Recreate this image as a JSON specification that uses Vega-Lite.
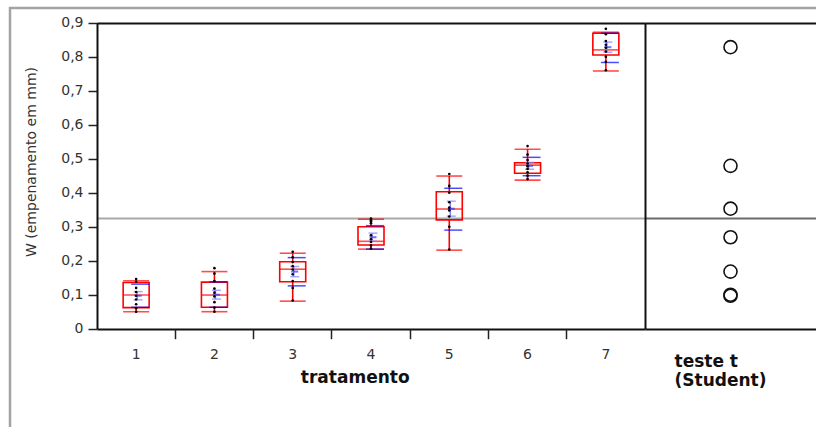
{
  "$schema": "https://vega.github.io/schema/vega-lite/v6.json",
  "width": 810,
  "height": 423,
  "autosize": {"type": "none"},
  "padding": {"left": 10, "top": 8, "right": -4, "bottom": -4},
  "background": "white",
  "config": {
    "view": {"stroke": "#a3a3a3", "strokeWidth": 2.5},
    "font": "DejaVu Sans",
    "axis": {"labelFont": "DejaVu Sans", "titleFont": "DejaVu Sans"}
  },
  "datasets": {
    "grupos": [
      {"tratamento": "1", "min": 0.05, "q1": 0.062, "mediana": 0.099, "q3": 0.136, "max": 0.141, "media": 0.097, "dp_inf": 0.063, "dp_sup": 0.131, "ep_inf": 0.085, "ep_sup": 0.109},
      {"tratamento": "2", "min": 0.05, "q1": 0.063, "mediana": 0.099, "q3": 0.137, "max": 0.168, "media": 0.100, "dp_inf": 0.063, "dp_sup": 0.138, "ep_inf": 0.087, "ep_sup": 0.113},
      {"tratamento": "3", "min": 0.081, "q1": 0.138, "mediana": 0.175, "q3": 0.197, "max": 0.222, "media": 0.168, "dp_inf": 0.126, "dp_sup": 0.209, "ep_inf": 0.153, "ep_sup": 0.183},
      {"tratamento": "4", "min": 0.234, "q1": 0.246, "mediana": 0.257, "q3": 0.300, "max": 0.322, "media": 0.269, "dp_inf": 0.234, "dp_sup": 0.303, "ep_inf": 0.257, "ep_sup": 0.281},
      {"tratamento": "5", "min": 0.231, "q1": 0.320, "mediana": 0.352, "q3": 0.403, "max": 0.449, "media": 0.353, "dp_inf": 0.290, "dp_sup": 0.413, "ep_inf": 0.331, "ep_sup": 0.375},
      {"tratamento": "6", "min": 0.437, "q1": 0.457, "mediana": 0.481, "q3": 0.488, "max": 0.528, "media": 0.479, "dp_inf": 0.450, "dp_sup": 0.504, "ep_inf": 0.469, "ep_sup": 0.489},
      {"tratamento": "7", "min": 0.758, "q1": 0.805, "mediana": 0.820, "q3": 0.869, "max": 0.872, "media": 0.828, "dp_inf": 0.783, "dp_sup": 0.869, "ep_inf": 0.813, "ep_sup": 0.843}
    ],
    "pontos": [
      {"tratamento": "1", "w": 0.146}, {"tratamento": "1", "w": 0.138}, {"tratamento": "1", "w": 0.12}, {"tratamento": "1", "w": 0.108}, {"tratamento": "1", "w": 0.097}, {"tratamento": "1", "w": 0.086}, {"tratamento": "1", "w": 0.072}, {"tratamento": "1", "w": 0.06}, {"tratamento": "1", "w": 0.05},
      {"tratamento": "2", "w": 0.178}, {"tratamento": "2", "w": 0.162}, {"tratamento": "2", "w": 0.14}, {"tratamento": "2", "w": 0.118}, {"tratamento": "2", "w": 0.106}, {"tratamento": "2", "w": 0.095}, {"tratamento": "2", "w": 0.078}, {"tratamento": "2", "w": 0.062}, {"tratamento": "2", "w": 0.05},
      {"tratamento": "3", "w": 0.226}, {"tratamento": "3", "w": 0.21}, {"tratamento": "3", "w": 0.196}, {"tratamento": "3", "w": 0.184}, {"tratamento": "3", "w": 0.174}, {"tratamento": "3", "w": 0.16}, {"tratamento": "3", "w": 0.14}, {"tratamento": "3", "w": 0.12}, {"tratamento": "3", "w": 0.083},
      {"tratamento": "4", "w": 0.324}, {"tratamento": "4", "w": 0.319}, {"tratamento": "4", "w": 0.315}, {"tratamento": "4", "w": 0.31}, {"tratamento": "4", "w": 0.275}, {"tratamento": "4", "w": 0.263}, {"tratamento": "4", "w": 0.255}, {"tratamento": "4", "w": 0.245}, {"tratamento": "4", "w": 0.236},
      {"tratamento": "5", "w": 0.455}, {"tratamento": "5", "w": 0.42}, {"tratamento": "5", "w": 0.40}, {"tratamento": "5", "w": 0.372}, {"tratamento": "5", "w": 0.356}, {"tratamento": "5", "w": 0.348}, {"tratamento": "5", "w": 0.33}, {"tratamento": "5", "w": 0.30}, {"tratamento": "5", "w": 0.233},
      {"tratamento": "6", "w": 0.537}, {"tratamento": "6", "w": 0.512}, {"tratamento": "6", "w": 0.496}, {"tratamento": "6", "w": 0.486}, {"tratamento": "6", "w": 0.478}, {"tratamento": "6", "w": 0.47}, {"tratamento": "6", "w": 0.46}, {"tratamento": "6", "w": 0.45}, {"tratamento": "6", "w": 0.44},
      {"tratamento": "7", "w": 0.882}, {"tratamento": "7", "w": 0.866}, {"tratamento": "7", "w": 0.846}, {"tratamento": "7", "w": 0.835}, {"tratamento": "7", "w": 0.826}, {"tratamento": "7", "w": 0.815}, {"tratamento": "7", "w": 0.80}, {"tratamento": "7", "w": 0.785}, {"tratamento": "7", "w": 0.76}
    ]
  },
  "layer": [
    {
      "data": {"name": "grupos"},
      "mark": {"type": "bar", "width": 26, "fill": "transparent", "stroke": "#ff0000", "strokeWidth": 1.6},
      "encoding": {
        "x": {"field": "tratamento", "type": "nominal",
          "scale": {"type": "band", "domain": ["1","2","3","4","5","6","7"], "range": [87, 635], "paddingInner": 0, "paddingOuter": 0},
          "axis": {"orient": "bottom", "offset": -102.3, "domain": false, "ticks": false, "labelAngle": 0, "labelFont": "DejaVu Sans", "labelFontSize": 14, "labelColor": "#333333", "labelPadding": 19, "labelDx": -4,
            "title": "tratamento", "titleFont": "DejaVu Sans", "titleFontSize": 17, "titleFontWeight": "bold", "titleColor": "#111111", "titleX": 344.7, "titleY": 54, "titleBaseline": "alphabetic", "titleAlign": "center"}},
        "y": {"field": "q1", "type": "quantitative",
          "scale": {"domain": [0, 0.9], "range": [320.7, 14.7], "nice": false, "zero": false},
          "axis": {"orient": "left", "offset": -87, "values": [0, 0.1, 0.2, 0.3, 0.4, 0.5, 0.6, 0.7, 0.8, 0.9],
            "labelExpr": "datum.value == 0 ? '0' : replace(format(datum.value, '.1f'), '.', ',')",
            "labelFont": "DejaVu Sans", "labelFontSize": 14, "labelColor": "#333333", "labelPadding": 5,
            "tickSize": 9, "tickColor": "#222222", "tickWidth": 1.5, "domainColor": "#111111", "domainWidth": 2, "grid": false,
            "title": "W (empenamento em mm)", "titleFont": "DejaVu Sans", "titleFontSize": 14, "titleFontWeight": "normal", "titleColor": "#333333",
            "titleX": -66, "titleY": 153.5, "titleAngle": 270, "titleAlign": "center", "titleBaseline": "middle"}},
        "y2": {"field": "q3"}
      }
    },
    {
      "data": {"name": "grupos"},
      "mark": {"type": "tick", "orient": "horizontal", "size": 26, "thickness": 1.6, "color": "#ff0000"},
      "encoding": {
        "x": {"field": "tratamento", "type": "nominal",
          "scale": {"type": "band", "domain": ["1","2","3","4","5","6","7"], "range": [87, 635], "paddingInner": 0, "paddingOuter": 0},
          "axis": {"orient": "bottom", "offset": -102.3, "values": ["2","3","4","5","6","7"], "bandPosition": 0, "domain": false, "labels": false, "ticks": true, "tickSize": 10, "tickColor": "#222222", "tickWidth": 1.5, "title": null}},
        "y": {"field": "mediana", "type": "quantitative",
          "scale": {"domain": [0, 0.9], "range": [320.7, 14.7], "nice": false, "zero": false},
          "axis": {"orient": "left", "offset": -87, "values": [0, 0.325, 0.9], "grid": true,
            "gridColor": {"condition": {"test": "datum.value == 0.325", "value": "#a8a8a8"}, "value": "#111111"},
            "gridWidth": 2, "gridOpacity": 1, "domain": false, "ticks": false, "labels": false, "title": null}}
      }
    },
    {
      "data": {"name": "grupos"},
      "mark": {"type": "rule", "color": "#ff0000", "strokeWidth": 1.6},
      "encoding": {
        "x": {"field": "tratamento", "type": "nominal", "scale": {"type": "band", "domain": ["1","2","3","4","5","6","7"], "range": [87, 635], "paddingInner": 0, "paddingOuter": 0}, "axis": null},
        "y": {"field": "min", "type": "quantitative", "scale": {"domain": [0, 0.9], "range": [320.7, 14.7], "nice": false, "zero": false}, "axis": null},
        "y2": {"field": "q1"}
      }
    },
    {
      "data": {"name": "grupos"},
      "mark": {"type": "rule", "color": "#ff0000", "strokeWidth": 1.6},
      "encoding": {
        "x": {"field": "tratamento", "type": "nominal", "scale": {"type": "band", "domain": ["1","2","3","4","5","6","7"], "range": [87, 635], "paddingInner": 0, "paddingOuter": 0}, "axis": null},
        "y": {"field": "q3", "type": "quantitative", "scale": {"domain": [0, 0.9], "range": [320.7, 14.7], "nice": false, "zero": false}, "axis": null},
        "y2": {"field": "max"}
      }
    },
    {
      "data": {"name": "grupos"},
      "mark": {"type": "tick", "orient": "horizontal", "size": 26, "thickness": 1.6, "color": "#ff0000"},
      "encoding": {
        "x": {"field": "tratamento", "type": "nominal", "scale": {"type": "band", "domain": ["1","2","3","4","5","6","7"], "range": [87, 635], "paddingInner": 0, "paddingOuter": 0}, "axis": null},
        "y": {"field": "min", "type": "quantitative", "scale": {"domain": [0, 0.9], "range": [320.7, 14.7], "nice": false, "zero": false}, "axis": null}
      }
    },
    {
      "data": {"name": "grupos"},
      "mark": {"type": "tick", "orient": "horizontal", "size": 26, "thickness": 1.6, "color": "#ff0000"},
      "encoding": {
        "x": {"field": "tratamento", "type": "nominal", "scale": {"type": "band", "domain": ["1","2","3","4","5","6","7"], "range": [87, 635], "paddingInner": 0, "paddingOuter": 0}, "axis": null},
        "y": {"field": "max", "type": "quantitative", "scale": {"domain": [0, 0.9], "range": [320.7, 14.7], "nice": false, "zero": false}, "axis": null}
      }
    },
    {
      "data": {"name": "grupos"},
      "mark": {"type": "tick", "orient": "horizontal", "size": 18, "thickness": 1.5, "color": "#0000ff", "xOffset": 4},
      "encoding": {
        "x": {"field": "tratamento", "type": "nominal", "scale": {"type": "band", "domain": ["1","2","3","4","5","6","7"], "range": [87, 635], "paddingInner": 0, "paddingOuter": 0}, "axis": null},
        "y": {"field": "dp_inf", "type": "quantitative", "scale": {"domain": [0, 0.9], "range": [320.7, 14.7], "nice": false, "zero": false}, "axis": null}
      }
    },
    {
      "data": {"name": "grupos"},
      "mark": {"type": "tick", "orient": "horizontal", "size": 18, "thickness": 1.5, "color": "#0000ff", "xOffset": 4},
      "encoding": {
        "x": {"field": "tratamento", "type": "nominal", "scale": {"type": "band", "domain": ["1","2","3","4","5","6","7"], "range": [87, 635], "paddingInner": 0, "paddingOuter": 0}, "axis": null},
        "y": {"field": "dp_sup", "type": "quantitative", "scale": {"domain": [0, 0.9], "range": [320.7, 14.7], "nice": false, "zero": false}, "axis": null}
      }
    },
    {
      "data": {"name": "grupos"},
      "mark": {"type": "rule", "color": "#8080ff", "strokeWidth": 1.5, "xOffset": 1},
      "encoding": {
        "x": {"field": "tratamento", "type": "nominal", "scale": {"type": "band", "domain": ["1","2","3","4","5","6","7"], "range": [87, 635], "paddingInner": 0, "paddingOuter": 0}, "axis": null},
        "y": {"field": "ep_inf", "type": "quantitative", "scale": {"domain": [0, 0.9], "range": [320.7, 14.7], "nice": false, "zero": false}, "axis": null},
        "y2": {"field": "ep_sup"}
      }
    },
    {
      "data": {"name": "grupos"},
      "mark": {"type": "tick", "orient": "horizontal", "size": 9, "thickness": 1.5, "color": "#8080ff", "xOffset": 2},
      "encoding": {
        "x": {"field": "tratamento", "type": "nominal", "scale": {"type": "band", "domain": ["1","2","3","4","5","6","7"], "range": [87, 635], "paddingInner": 0, "paddingOuter": 0}, "axis": null},
        "y": {"field": "ep_inf", "type": "quantitative", "scale": {"domain": [0, 0.9], "range": [320.7, 14.7], "nice": false, "zero": false}, "axis": null}
      }
    },
    {
      "data": {"name": "grupos"},
      "mark": {"type": "tick", "orient": "horizontal", "size": 9, "thickness": 1.5, "color": "#8080ff", "xOffset": 2},
      "encoding": {
        "x": {"field": "tratamento", "type": "nominal", "scale": {"type": "band", "domain": ["1","2","3","4","5","6","7"], "range": [87, 635], "paddingInner": 0, "paddingOuter": 0}, "axis": null},
        "y": {"field": "ep_sup", "type": "quantitative", "scale": {"domain": [0, 0.9], "range": [320.7, 14.7], "nice": false, "zero": false}, "axis": null}
      }
    },
    {
      "data": {"name": "grupos"},
      "mark": {"type": "tick", "orient": "horizontal", "size": 7, "thickness": 2, "color": "#3333ff", "xOffset": 2},
      "encoding": {
        "x": {"field": "tratamento", "type": "nominal", "scale": {"type": "band", "domain": ["1","2","3","4","5","6","7"], "range": [87, 635], "paddingInner": 0, "paddingOuter": 0}, "axis": null},
        "y": {"field": "media", "type": "quantitative", "scale": {"domain": [0, 0.9], "range": [320.7, 14.7], "nice": false, "zero": false}, "axis": null}
      }
    },
    {
      "data": {"name": "pontos"},
      "mark": {"type": "circle", "size": 7, "color": "#000000", "opacity": 1},
      "encoding": {
        "x": {"field": "tratamento", "type": "nominal", "scale": {"type": "band", "domain": ["1","2","3","4","5","6","7"], "range": [87, 635], "paddingInner": 0, "paddingOuter": 0}, "axis": null},
        "y": {"field": "w", "type": "quantitative", "scale": {"domain": [0, 0.9], "range": [320.7, 14.7], "nice": false, "zero": false}, "axis": null}
      }
    },
    {
      "data": {"name": "grupos"},
      "mark": {"type": "point", "shape": "circle", "filled": false, "size": 170, "stroke": "#111111", "strokeWidth": 1.6, "opacity": 1},
      "encoding": {
        "x": {"datum": "teste t (Student)", "type": "nominal",
          "scale": {"type": "band", "range": [635, 806], "paddingInner": 0, "paddingOuter": 0},
          "axis": {"orient": "bottom", "offset": -102.3, "domain": false, "ticks": false, "labels": false,
            "title": ["teste t", "(Student)"], "titleFont": "DejaVu Sans", "titleFontSize": 17, "titleFontWeight": "bold", "titleColor": "#111111",
            "titleX": 664, "titleY": 37.5, "titleAlign": "left", "titleBaseline": "alphabetic", "titleLineHeight": 19}},
        "y": {"field": "media", "type": "quantitative",
          "scale": {"domain": [0, 0.9], "range": [320.7, 14.7], "nice": false, "zero": false},
          "axis": {"orient": "left", "offset": -635, "domain": true, "domainColor": "#111111", "domainWidth": 2, "ticks": false, "labels": false,
            "grid": true, "values": [0, 0.325, 0.9],
            "gridColor": {"condition": {"test": "datum.value == 0.325", "value": "#6b6b6b"}, "value": "#111111"},
            "gridWidth": 2, "gridOpacity": 1, "title": null}}
      }
    }
  ],
  "resolve": {"scale": {"x": "independent"}, "axis": {"x": "independent", "y": "independent"}}
}
